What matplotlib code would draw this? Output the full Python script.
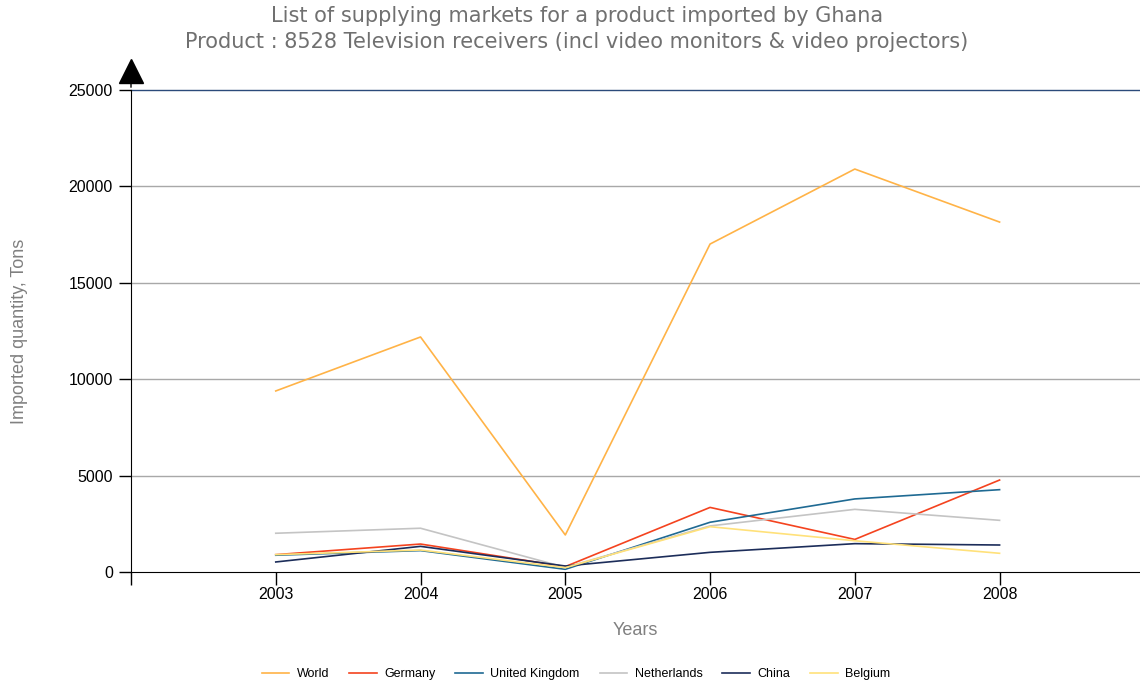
import matplotlib
matplotlib.use("Agg")
import matplotlib.pyplot as plt
from matplotlib import transforms

years = [2003, 2004, 2005, 2006, 2007, 2008]
world = [9390, 12190, 1920, 17010, 20900, 18150]
germany = [900, 1450, 280, 3350, 1690, 4770]
united_kingdom = [870, 1110, 140, 2580, 3790, 4270]
netherlands = [2010, 2270, 240, 2390, 3250, 2680]
china = [520, 1330, 310, 1020, 1470, 1400]
belgium = [900, 1140, 225, 2350, 1620, 970]

series = [
    ("World", world, "#FFB347"),
    ("Germany", germany, "#F4431F"),
    ("United Kingdom", united_kingdom, "#1F6A93"),
    ("Netherlands", netherlands, "#C4C4C4"),
    ("China", china, "#1C2D5A"),
    ("Belgium", belgium, "#FFE17A"),
]

plt.rcParams['font.family'] = ['Liberation Sans', 'DejaVu Sans']

W, H = 1140, 685
fig = plt.figure(figsize=(W / 100, H / 100), dpi=100)
left, right, top, bottom = 131, 1140, 90, 572
ax = fig.add_axes([left / W, 1 - bottom / H, (right - left) / W, (bottom - top) / H])

ax.set_xlim(2002, 2008.97)
ax.set_ylim(0, 25000)

for y in [5000, 10000, 15000, 20000]:
    ax.axhline(y, color="#A8A8A8", lw=1.0, zorder=1)
ax.axhline(25000, color="#2B4A7A", lw=1.0, zorder=1, clip_on=False)

for name, vals, col in series:
    ax.plot(years, vals, color=col, lw=1.2, label=name, zorder=3)

for s in ["top", "right"]:
    ax.spines[s].set_visible(False)
ax.spines["left"].set_color("black")
ax.spines["bottom"].set_color("black")

ax.set_yticks([0, 5000, 10000, 15000, 20000, 25000])
ax.set_yticklabels(["0", "5000", "10000", "15000", "20000", "25000"])
ax.set_xticks([2002] + years)
ax.set_xticklabels([""] + [str(y) for y in years])
ax.tick_params(axis="both", labelsize=11.5, colors="black", length=9, width=1.0)
ax.tick_params(axis="x", pad=2)
ax.tick_params(axis="y", pad=4)

# Arrow head on top of y axis
off = transforms.offset_copy(ax.transAxes, fig=fig, x=0, y=19, units="dots")
ax.plot([0], [1], marker="^", markersize=17, color="black", transform=off, clip_on=False, zorder=5)
ax.annotate("", xy=(0, 1.02), xytext=(0, 1.0), xycoords="axes fraction",
            arrowprops=dict(arrowstyle="-", color="black", lw=1.0))

ax.set_xlabel("Years", fontsize=13, color="#808080")
ax.xaxis.set_label_coords(0.5, -(622 - 572) / (bottom - top))
ax.set_ylabel("Imported quantity, Tons", fontsize=13, color="#808080")
ax.yaxis.set_label_coords(-(131 - 28) / (right - left), 0.5)

fig.text(577 / W, 1 - 16 / H, "List of supplying markets for a product imported by Ghana",
         ha="center", va="center", fontsize=15, color="#707070", family="DejaVu Sans")
fig.text(577 / W, 1 - 42 / H,
         "Product : 8528 Television receivers (incl video monitors & video projectors)",
         ha="center", va="center", fontsize=15, color="#707070", family="DejaVu Sans")

leg = fig.legend(loc="center", bbox_to_anchor=(576 / W, 1 - 674 / H), ncol=6, frameon=False,
                 fontsize=9, handlelength=2.2, columnspacing=1.6, handletextpad=0.6)

fig.savefig("out.png", dpi=100)
